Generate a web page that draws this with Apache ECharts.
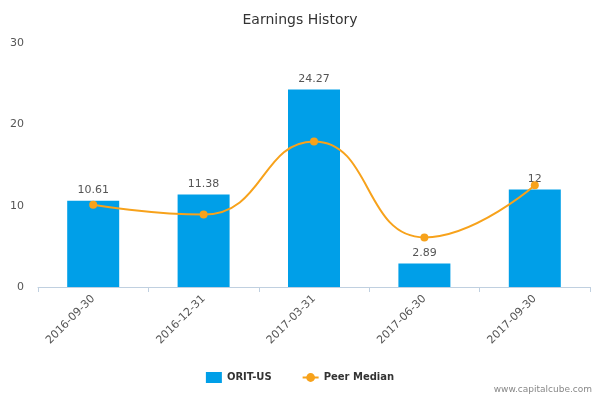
<!DOCTYPE html>
<html>
<head>
<meta charset="utf-8">
<script src="https://cdn.jsdelivr.net/npm/echarts@6/dist/echarts.min.js"></script>
<style>html,body{margin:0;padding:0;background:#fff}#chart{width:600px;height:400px}</style>
</head>
<body>
<div id="chart"></div>
<script>
var categories = ['2016-09-30', '2016-12-31', '2017-03-31', '2017-06-30', '2017-09-30'];
var oritValues = [10.61, 11.38, 24.27, 2.89, 12];
var peerMedian = [10.1, 8.9, 17.9, 6.1, 12.5];
var yTicks = [0, 10, 20, 30];

var chart = echarts.init(document.getElementById('chart'));
chart.setOption({
  animation: false,
  title: {
    text: 'Earnings History',
    left: 'center',
    top: 8,
    textStyle: { fontFamily: 'DejaVu Sans', fontSize: 14, fontWeight: 'normal', color: '#333' }
  },
  graphic: [{
    type: 'text', right: 8, bottom: 6,
    style: { text: 'www.capitalcube.com', fontFamily: 'DejaVu Sans', fontSize: 9, fill: '#888' }
  }],
  legend: {
    bottom: 12,
    itemGap: 30,
    itemWidth: 16,
    itemHeight: 11,
    textStyle: { fontFamily: 'DejaVu Sans', fontSize: 10, fontWeight: 'bold', color: '#333' },
    data: [{ name: 'ORIT-US', icon: 'rect' }, { name: 'Peer Median' }]
  },
  grid: { left: 38, right: 10, top: 43, bottom: 113 },
  xAxis: {
    type: 'category',
    data: categories,
    axisLine: { lineStyle: { color: '#c0d0e0' } },
    axisTick: { show: true, alignWithLabel: false, lineStyle: { color: '#c0d0e0' } },
    axisLabel: { rotate: 45, color: '#555', fontFamily: 'DejaVu Sans', fontSize: 11, margin: 10 }
  },
  yAxis: {
    type: 'value',
    min: yTicks[0],
    max: yTicks[yTicks.length - 1],
    interval: 10,
    splitLine: { show: false },
    axisLabel: { color: '#555', fontFamily: 'DejaVu Sans', fontSize: 11, margin: 14 }
  },
  series: [{
    name: 'ORIT-US',
    type: 'bar',
    data: oritValues,
    barWidth: 52,
    itemStyle: { color: '#009fe8' },
    label: { show: true, position: 'top', color: '#555', fontFamily: 'DejaVu Sans', fontSize: 11 }
  }, {
    name: 'Peer Median',
    type: 'line',
    data: peerMedian,
    smooth: true,
    symbol: 'circle',
    symbolSize: 8,
    itemStyle: { color: '#f7a21b' },
    lineStyle: { color: '#f7a21b', width: 2 }
  }]
});
</script>
</body>
</html>
